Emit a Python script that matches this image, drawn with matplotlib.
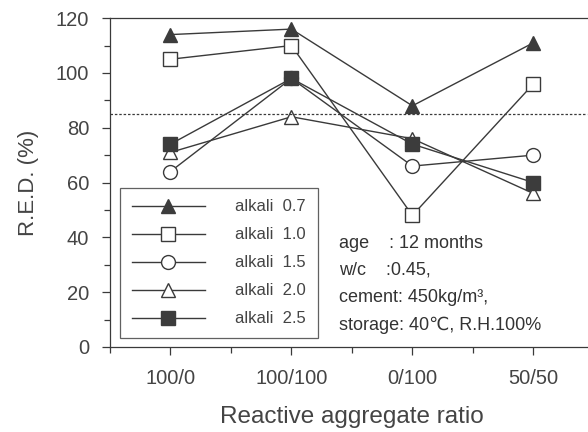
import matplotlib
matplotlib.use("Agg")
import matplotlib.pyplot as plt
from matplotlib.ticker import MultipleLocator
import matplotlib.font_manager as fm

categories = ["100/0", "100/100", "0/100", "50/50"]
alkali_07 = [114, 116, 88, 111]
alkali_10 = [105, 110, 48, 96]
alkali_15 = [64, 98, 66, 70]
alkali_20 = [71, 84, 76, 56]
alkali_25 = [74, 98, 74, 60]
series_labels = ["alkali  0.7", "alkali  1.0", "alkali  1.5", "alkali  2.0", "alkali  2.5"]
threshold = 85
notes = ["age    : 12 months", "w/c    :0.45,", "cement: 450kg/m³,", "storage: 40℃, R.H.100%"]

names = {f.name for f in fm.fontManager.ttflist}
narrow = "Liberation Sans Narrow" if "Liberation Sans Narrow" in names else "Liberation Sans"

plt.rcParams['font.family'] = ['Liberation Sans', 'DejaVu Sans']
txt = "#444444"
lc = "#3a3a3a"

fig = plt.figure(figsize=(5.88, 4.32), dpi=100)
ax = fig.add_axes([0.187, 0.197, 0.823, 0.761])

x = list(range(len(categories)))
styles = [
    dict(marker="^", mfc="#3c3c3c", mec="#3c3c3c"),
    dict(marker="s", mfc="white", mec=lc),
    dict(marker="o", mfc="white", mec=lc),
    dict(marker="^", mfc="white", mec=lc),
    dict(marker="s", mfc="#3c3c3c", mec="#3c3c3c"),
]
for data, lab, st in zip([alkali_07, alkali_10, alkali_15, alkali_20, alkali_25], series_labels, styles):
    ax.plot(x, data, color=lc, lw=1.0, ms=10, mew=1.0, label=lab, **st)

ax.axhline(threshold, xmin=0, xmax=0.985, color=lc, ls=(0, (2, 1.5)), lw=0.9)

ax.set_xlim(-0.5, 3.5)
ax.set_ylim(0, 120)
ax.set_xticks(x)
ax.set_xticklabels(categories)
ax.xaxis.set_minor_locator(MultipleLocator(0.5))
ax.yaxis.set_major_locator(MultipleLocator(20))
ax.yaxis.set_minor_locator(MultipleLocator(10))
ax.tick_params(axis='both', which='major', direction='out', length=6, width=0.9, colors=lc, labelcolor=txt, labelsize=14.5)
ax.tick_params(axis='both', which='minor', direction='out', length=4, width=0.9, colors=lc)
ax.tick_params(axis='x', pad=10)
ax.tick_params(axis='y', pad=9)
for s in ["left", "bottom", "top", "right"]:
    ax.spines[s].set_color(lc)
    ax.spines[s].set_linewidth(0.9)

ax.set_ylabel("R.E.D. (%)", fontsize=16, color=txt, labelpad=12)
ax.set_xlabel("Reactive aggregate ratio", fontsize=17.5, color=txt, labelpad=13)

leg = ax.legend(loc="lower left", bbox_to_anchor=(0.021, 0.027), frameon=True, fancybox=False,
                edgecolor=lc, fontsize=12, labelcolor=txt, handlelength=4.4, handletextpad=1.8,
                borderpad=0.7, labelspacing=0.78, borderaxespad=0)
leg.get_frame().set_linewidth(0.9)

ys = [0.316, 0.234, 0.149, 0.067]
for t, yy in zip(notes, ys):
    ax.text(0.473, yy, t, transform=ax.transAxes, fontsize=13, color="#333333",
            family=[narrow, 'DejaVu Sans'], va="center")

fig.savefig("out.png", dpi=100)
